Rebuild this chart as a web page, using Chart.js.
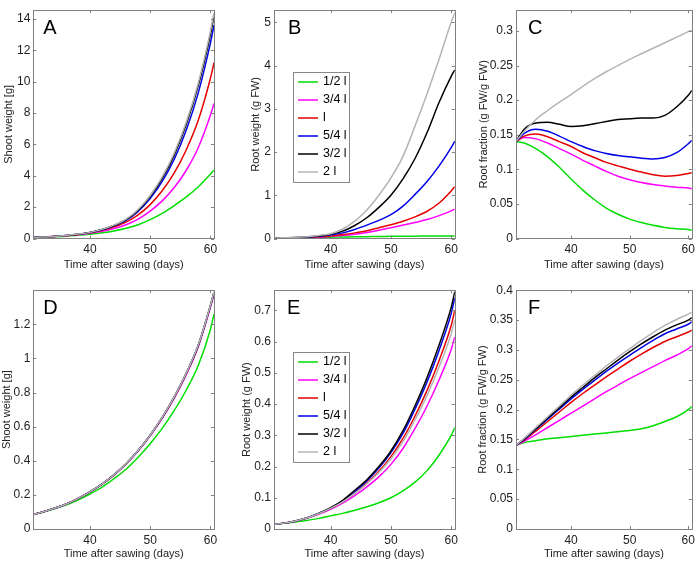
<!DOCTYPE html>
<html>
<head>
<meta charset="utf-8">
<script src="https://cdn.jsdelivr.net/npm/chart.js@4.4.1/dist/chart.umd.min.js"></script>
<style>
  body { margin: 0; background: #fff; }
  #fig { position: relative; width: 699px; height: 561px; overflow: hidden; }
  #fig canvas { position: absolute; }
</style>
</head>
<body>
<div id="fig"></div>
<script>
'use strict';

// sampling days (x values shared by every series)
const days = [30.6, 32, 34, 36, 38, 40, 42, 44, 46, 48, 50, 52, 54, 56, 58, 60, 60.6];
const treatments = ['1/2 l', '3/4 l', 'l', '5/4 l', '3/2 l', '2 l'];
const lineColors = ['#00dd00', '#ff00ff', '#e60000', '#0000e6', '#000000', '#b4b4b4'];
const xTicks = [40, 50, 60];

// A: shoot weight [g], order follows treatments
const shootA = [
  [0.08, 0.09, 0.11, 0.15, 0.2, 0.27, 0.36, 0.48, 0.65, 0.88, 1.2, 1.6, 2.1, 2.65, 3.3, 4.1, 4.35],
  [0.08, 0.09, 0.12, 0.17, 0.24, 0.33, 0.46, 0.64, 0.88, 1.24, 1.75, 2.4, 3.25, 4.35, 5.8, 7.85, 8.6],
  [0.08, 0.09, 0.13, 0.18, 0.26, 0.36, 0.52, 0.74, 1.04, 1.5, 2.16, 3.04, 4.18, 5.66, 7.55, 10.2, 11.2],
  [0.08, 0.09, 0.13, 0.19, 0.27, 0.38, 0.56, 0.81, 1.16, 1.73, 2.55, 3.64, 5.06, 6.92, 9.3, 12.45, 13.6],
  [0.08, 0.09, 0.13, 0.19, 0.27, 0.39, 0.57, 0.83, 1.2, 1.8, 2.67, 3.83, 5.33, 7.28, 9.76, 13.0, 14.2],
  [0.08, 0.09, 0.13, 0.19, 0.28, 0.39, 0.58, 0.85, 1.23, 1.85, 2.74, 3.92, 5.45, 7.42, 9.93, 13.2, 14.4]
];
const ticksA = [0, 2, 4, 6, 8, 10, 12, 14];

// B: root weight (g FW)
const rootB = [
  [0.01, 0.012, 0.015, 0.02, 0.025, 0.03, 0.035, 0.04, 0.043, 0.046, 0.05, 0.052, 0.054, 0.056, 0.058, 0.06, 0.06],
  [0.012, 0.013, 0.017, 0.023, 0.033, 0.05, 0.07, 0.1, 0.14, 0.19, 0.25, 0.31, 0.37, 0.44, 0.53, 0.64, 0.68],
  [0.012, 0.013, 0.018, 0.026, 0.04, 0.06, 0.09, 0.13, 0.18, 0.25, 0.32, 0.4, 0.5, 0.63, 0.82, 1.1, 1.2],
  [0.012, 0.014, 0.02, 0.03, 0.05, 0.08, 0.13, 0.21, 0.31, 0.42, 0.55, 0.75, 1.02, 1.32, 1.68, 2.1, 2.25],
  [0.012, 0.014, 0.022, 0.035, 0.06, 0.1, 0.17, 0.3, 0.48, 0.72, 1.0, 1.38, 1.85, 2.45, 3.15, 3.75, 3.9],
  [0.012, 0.015, 0.025, 0.04, 0.07, 0.11, 0.22, 0.4, 0.66, 1.0, 1.4, 1.9, 2.6, 3.35, 4.15, 5.0, 5.22]
];
const ticksB = [0, 1, 2, 3, 4, 5];

// C: root fraction (g FW/g FW)
const fracC = [
  [0.14, 0.138, 0.13, 0.118, 0.103, 0.086, 0.07, 0.056, 0.044, 0.035, 0.028, 0.023, 0.019, 0.016, 0.014, 0.013, 0.012],
  [0.14, 0.146, 0.144, 0.138, 0.13, 0.122, 0.113, 0.105, 0.097, 0.09, 0.085, 0.081, 0.078, 0.076, 0.074, 0.073, 0.072],
  [0.14, 0.148, 0.151, 0.147, 0.14, 0.133, 0.124, 0.117, 0.11, 0.105, 0.1, 0.096, 0.092, 0.09, 0.091, 0.094, 0.095],
  [0.14, 0.152, 0.158, 0.155, 0.148, 0.14, 0.133, 0.127, 0.123, 0.12, 0.118, 0.116, 0.115, 0.117, 0.124, 0.137, 0.142],
  [0.14, 0.158, 0.167, 0.168, 0.165, 0.162, 0.163, 0.166, 0.169, 0.172, 0.173, 0.174, 0.174, 0.178, 0.19, 0.207, 0.214],
  [0.14, 0.155, 0.172, 0.185, 0.197, 0.208, 0.22, 0.231, 0.241, 0.25, 0.259, 0.267, 0.275, 0.283, 0.291, 0.299, 0.301]
];
const ticksC = [0, 0.05, 0.1, 0.15, 0.2, 0.25, 0.3];

// D: shoot weight [g]
const shootD = [
  [0.085, 0.097, 0.117, 0.14, 0.17, 0.205, 0.245, 0.295, 0.35, 0.42, 0.5, 0.59, 0.695, 0.815, 0.96, 1.17, 1.26],
  [0.085, 0.098, 0.12, 0.145, 0.178, 0.217, 0.262, 0.316, 0.381, 0.457, 0.546, 0.648, 0.767, 0.905, 1.07, 1.3, 1.378],
  [0.085, 0.098, 0.12, 0.145, 0.178, 0.218, 0.263, 0.317, 0.382, 0.459, 0.548, 0.651, 0.77, 0.91, 1.075, 1.305, 1.383],
  [0.085, 0.098, 0.12, 0.145, 0.178, 0.218, 0.263, 0.318, 0.383, 0.46, 0.55, 0.653, 0.773, 0.913, 1.078, 1.308, 1.386],
  [0.085, 0.098, 0.12, 0.145, 0.178, 0.218, 0.263, 0.318, 0.383, 0.46, 0.55, 0.654, 0.774, 0.914, 1.079, 1.31, 1.388],
  [0.085, 0.098, 0.12, 0.145, 0.178, 0.218, 0.263, 0.318, 0.383, 0.46, 0.55, 0.654, 0.774, 0.914, 1.08, 1.31, 1.39]
];
const ticksD = [0, 0.2, 0.4, 0.6, 0.8, 1, 1.2];

// E: root weight (g FW)
const rootE = [
  [0.015, 0.018, 0.022, 0.027, 0.034, 0.042, 0.05, 0.06, 0.071, 0.084, 0.1, 0.122, 0.15, 0.187, 0.237, 0.3, 0.325],
  [0.015, 0.018, 0.024, 0.034, 0.047, 0.063, 0.083, 0.107, 0.135, 0.167, 0.207, 0.258, 0.322, 0.394, 0.478, 0.575, 0.615],
  [0.015, 0.018, 0.025, 0.035, 0.049, 0.066, 0.088, 0.115, 0.147, 0.185, 0.232, 0.29, 0.362, 0.444, 0.54, 0.652, 0.7],
  [0.015, 0.018, 0.025, 0.035, 0.05, 0.067, 0.09, 0.12, 0.154, 0.195, 0.245, 0.306, 0.384, 0.471, 0.573, 0.69, 0.74],
  [0.015, 0.018, 0.025, 0.035, 0.05, 0.068, 0.092, 0.124, 0.158, 0.2, 0.25, 0.315, 0.395, 0.485, 0.59, 0.71, 0.76],
  [0.015, 0.018, 0.025, 0.035, 0.049, 0.066, 0.087, 0.114, 0.145, 0.181, 0.225, 0.28, 0.35, 0.428, 0.52, 0.625, 0.67]
];
const ticksE = [0, 0.1, 0.2, 0.3, 0.4, 0.5, 0.6, 0.7];

// F: root fraction (g FW/g FW)
const fracF = [
  [0.14, 0.145, 0.148, 0.151, 0.153, 0.155, 0.157, 0.159, 0.161, 0.163, 0.165, 0.168, 0.173, 0.18, 0.188, 0.2, 0.205],
  [0.14, 0.147, 0.158, 0.17, 0.182, 0.194, 0.206, 0.218, 0.23, 0.241, 0.252, 0.262, 0.272, 0.282, 0.291, 0.302, 0.307],
  [0.14, 0.149, 0.164, 0.18, 0.196, 0.212, 0.227, 0.241, 0.255, 0.268, 0.281, 0.293, 0.304, 0.314, 0.322, 0.33, 0.333],
  [0.14, 0.15, 0.167, 0.184, 0.201, 0.218, 0.234, 0.249, 0.264, 0.278, 0.291, 0.304, 0.316, 0.327, 0.335, 0.343, 0.347],
  [0.14, 0.151, 0.168, 0.186, 0.203, 0.221, 0.237, 0.253, 0.268, 0.283, 0.297, 0.31, 0.322, 0.333, 0.342, 0.35, 0.354],
  [0.14, 0.152, 0.17, 0.188, 0.206, 0.224, 0.241, 0.257, 0.273, 0.288, 0.302, 0.316, 0.329, 0.341, 0.351, 0.36, 0.363]
];
const ticksF = [0, 0.05, 0.1, 0.15, 0.2, 0.25, 0.3, 0.35, 0.4];

const FONT = 'Arial, "Liberation Sans", Helvetica, sans-serif';
const frameColor = '#808080';

// box round the axes with inward ticks on all sides, plus the panel letter and legend
const matlabAxes = {
  id: 'matlabAxes',
  afterDatasetsDraw(chart, args, opts) {
    const { ctx, chartArea: a, scales: { x, y } } = chart;
    ctx.save();
    ctx.strokeStyle = frameColor;
    ctx.lineWidth = 1;
    ctx.beginPath();
    x.ticks.forEach(t => {
      const px = Math.round(x.getPixelForValue(t.value)) + 0.5;
      ctx.moveTo(px, a.bottom); ctx.lineTo(px, a.bottom - 3);
      ctx.moveTo(px, a.top); ctx.lineTo(px, a.top + 3);
    });
    y.ticks.forEach(t => {
      const py = Math.round(y.getPixelForValue(t.value)) + 0.5;
      ctx.moveTo(a.left, py); ctx.lineTo(a.left + 3, py);
      ctx.moveTo(a.right, py); ctx.lineTo(a.right - 3, py);
    });
    ctx.stroke();
    ctx.strokeRect(Math.round(a.left) + 0.5, Math.round(a.top) + 0.5,
      Math.round(a.right - a.left), Math.round(a.bottom - a.top));

    // panel letter
    ctx.fillStyle = '#000';
    ctx.font = '20px ' + FONT;
    ctx.textBaseline = 'top';
    ctx.textAlign = 'left';
    ctx.fillText(opts.letter, a.left + opts.letterDx, a.top + 8);

    // legend box inside the axes, entries in treatment order
    if (opts.legend) {
      const lg = opts.legend;
      const sets = chart.data.datasets;
      ctx.fillStyle = '#fff';
      ctx.fillRect(lg.x, lg.y, lg.w, lg.h);
      ctx.strokeStyle = '#888';
      ctx.strokeRect(lg.x + 0.5, lg.y + 0.5, lg.w, lg.h);
      ctx.font = '12.5px ' + FONT;
      ctx.textBaseline = 'middle';
      sets.forEach((ds, i) => {
        const cy = lg.y + 10 + i * 18;
        ctx.strokeStyle = ds.borderColor;
        ctx.lineWidth = 1.5;
        ctx.beginPath();
        ctx.moveTo(lg.x + 5, cy); ctx.lineTo(lg.x + 25, cy);
        ctx.stroke();
        ctx.fillStyle = '#000';
        ctx.fillText(ds.label, lg.x + 30, cy);
      });
    }
    ctx.restore();
  }
};

function fmt(v) {
  return String(+v.toFixed(3));
}

function makePanel(p) {
  const canvas = document.createElement('canvas');
  canvas.width = p.w;
  canvas.height = p.h;
  canvas.style.left = p.left + 'px';
  canvas.style.top = p.top + 'px';
  canvas.style.width = p.w + 'px';
  canvas.style.height = p.h + 'px';
  document.getElementById('fig').appendChild(canvas);

  // later treatments drawn on top, like the original plot
  const datasets = p.series.map((vals, i) => ({
    label: treatments[i],
    data: vals.map((v, j) => ({ x: days[j], y: v })),
    borderColor: lineColors[i],
    borderWidth: 1.5,
    pointRadius: 0,
    fill: false,
    order: p.series.length - i,
    cubicInterpolationMode: 'monotone'
  }));

  return new Chart(canvas, {
    type: 'line',
    data: { datasets: datasets },
    plugins: [matlabAxes],
    options: {
      responsive: false,
      animation: false,
      layout: { padding: { left: 0, right: p.padR, top: p.padT, bottom: p.padB } },
      plugins: {
        legend: { display: false },
        tooltip: { enabled: false },
        matlabAxes: { letter: p.letter, letterDx: p.letterDx, legend: p.legend }
      },
      scales: {
        x: {
          type: 'linear',
          min: 30.6,
          max: 60.6,
          grid: { display: false, drawTicks: false },
          border: { display: false },
          afterBuildTicks: s => { s.ticks = xTicks.map(v => ({ value: v })); },
          afterFit: s => { s.height = p.xH; },
          ticks: { color: '#222', padding: 4, font: { size: 12, family: FONT } },
          title: {
            display: true,
            text: 'Time after sawing (days)',
            color: '#222',
            padding: { top: 0, bottom: 0 },
            font: { size: 11, family: FONT }
          }
        },
        y: {
          type: 'linear',
          min: 0,
          max: p.yMax,
          grid: { display: false, drawTicks: false },
          border: { display: false },
          afterBuildTicks: s => { s.ticks = p.yTicks.map(v => ({ value: v })); },
          afterFit: s => { s.width = p.yW; },
          ticks: { color: '#222', padding: 3, font: { size: 12, family: FONT }, callback: fmt },
          title: {
            display: true,
            text: p.yTitle,
            color: '#222',
            padding: { top: p.yTitlePad, bottom: 0 },
            font: { size: 11, family: FONT }
          }
        }
      }
    }
  });
}

const cols = [
  { left: 0, w: 228, yW: 33.3, padR: 14 },
  { left: 230, w: 232, yW: 44, padR: 7 },
  { left: 462, w: 237, yW: 54, padR: 2 }
];
const rows = [
  { top: 0, h: 280, padT: 1, xH: 33, padB: 8.5 },
  { top: 280, h: 281, padT: 10, xH: 32, padB: 0 }
];
const legendBox = { x: 63, y: 72, w: 56, h: 110 };

const panels = [
  { c: 0, r: 0, letter: 'A', letterDx: 10, series: shootA, yMax: 14.55, yTicks: ticksA, yTitle: 'Shoot weight [g]', yTitlePad: 2 },
  { c: 1, r: 0, letter: 'B', letterDx: 14, series: rootB, yMax: 5.28, yTicks: ticksB, yTitle: 'Root weight (g FW)', yTitlePad: 19, legend: legendBox },
  { c: 2, r: 0, letter: 'C', letterDx: 12, series: fracC, yMax: 0.33, yTicks: ticksC, yTitle: 'Root fraction (g FW/g FW)', yTitlePad: 15 },
  { c: 0, r: 1, letter: 'D', letterDx: 10, series: shootD, yMax: 1.4, yTicks: ticksD, yTitle: 'Shoot weight [g]', yTitlePad: 0.5 },
  { c: 1, r: 1, letter: 'E', letterDx: 13, series: rootE, yMax: 0.765, yTicks: ticksE, yTitle: 'Root weight (g FW)', yTitlePad: 10, legend: legendBox },
  { c: 2, r: 1, letter: 'F', letterDx: 12, series: fracF, yMax: 0.4, yTicks: ticksF, yTitle: 'Root fraction (g FW/g FW)', yTitlePad: 14 }
];

panels.forEach(pn => {
  makePanel(Object.assign({}, cols[pn.c], rows[pn.r], pn));
});
</script>
</body>
</html>
